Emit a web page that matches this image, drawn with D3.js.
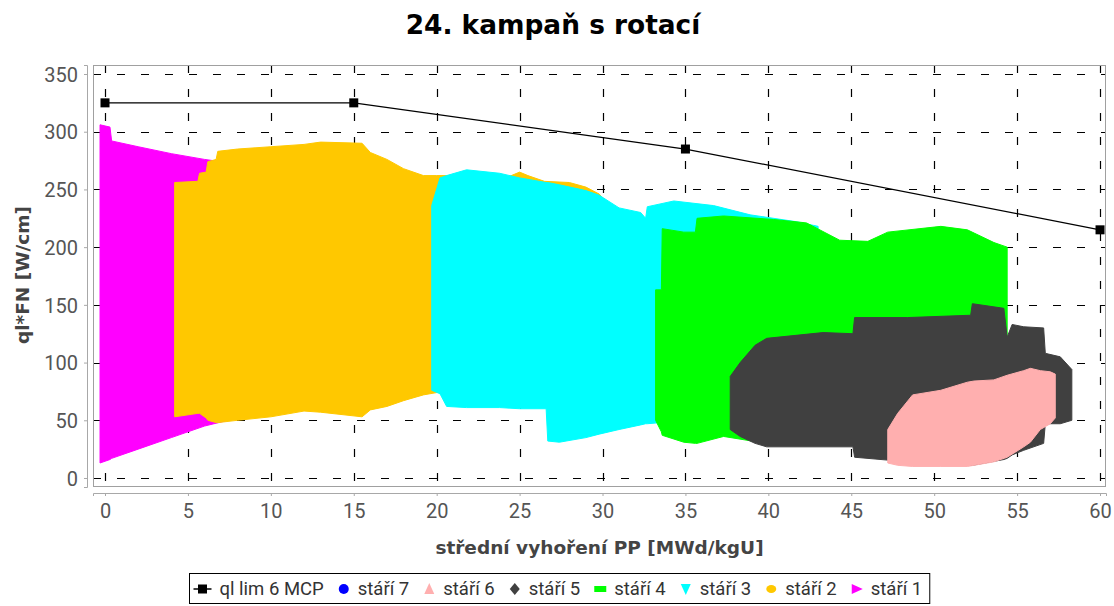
<!DOCTYPE html>
<html>
<head>
<meta charset="utf-8">
<script src="https://cdn.jsdelivr.net/npm/d3@7"></script>
<style>
  body { margin: 0; background: #fff; }
  svg { display: block; }
</style>
</head>
<body>
<script>
// chart size and plot frame
const WIDTH = 1114, HEIGHT = 606;
const PLOT = { left: 93, right: 1106, top: 65, bottom: 487 };
const X_DOMAIN = [-0.724, 60.36];
const Y_DOMAIN = [-7.8, 357.8];

const xTicks = [0, 5, 10, 15, 20, 25, 30, 35, 40, 45, 50, 55, 60];
const yTicks = [0, 50, 100, 150, 200, 250, 300, 350];

// ql lim 6 MCP (line with squares)
const limX = [0, 15, 35, 60];
const limY = [325, 325, 285, 215];

// point clouds, read off as upper / lower envelope at given burnup
// stáří 1
const age1X = [-0.3, 0.3, 0.4, 2, 4, 6, 8];
const age1Top = [306, 304, 292, 287, 281, 276, 272];
const age1Bottom = [13, 16, 17, 25, 35, 45, 52];

// stáří 2
const age2X = [4.2, 5.6, 5.7, 6.1, 6.2, 6.7, 6.8, 8, 10, 12, 13, 15.5, 16, 17, 18, 19.2, 20, 22, 24, 25, 25.5, 26.5, 28, 29, 29.8, 30.3];
const age2Top = [256, 257, 264, 265, 274, 276, 283, 285, 287, 289, 291, 290, 282, 276, 268, 262, 262, 262, 259, 265, 262, 257, 256, 252, 246, 238];
const age2Bottom = [53, 56, 56, 52, 50, 48, 48, 50, 53, 58, 57, 53, 59, 62, 67, 72, 74, 76, 77, 78, 78, 79, 80, 80, 80, 80];

// stáří 3
const age3X = [19.7, 20.2, 20.6, 21.8, 23.8, 25, 26.6, 26.7, 27.4, 29, 29.8, 31, 32.3, 32.6, 32.7, 34.3, 36.7, 38.9, 41.7, 43];
const age3Top = [236, 260, 262, 267, 264, 260, 256, 256, 254, 249, 245, 234, 230, 225, 235, 240, 236, 228, 222, 218];
const age3Bottom = [76, 73, 62, 61, 61, 60, 60, 32, 31, 35, 38, 42, 46, 47, 47, 49, 50, 52, 55, 60];

// stáří 4
const age4X = [33.2, 33.55, 33.6, 34.9, 35.6, 35.7, 37.3, 40.3, 42.3, 44.3, 46, 47.2, 50.4, 52, 53.6, 54.4];
const age4Top = [163, 163, 216, 213, 213, 225, 227, 224, 221, 206, 205, 213, 218, 215, 204, 200];
const age4Bottom = [50, 40, 37, 31, 30, 30, 36, 29, 30, 35, 40, 45, 55, 65, 80, 100];

// stáří 5
const age5X = [37.7, 38.3, 39.2, 39.9, 43.3, 45.1, 45.2, 48.4, 52.2, 52.3, 54.2, 54.4, 54.7, 55.4, 56.6, 56.7, 57.6, 58.3];
const age5Top = [88, 100, 115, 121, 126, 125, 139, 139, 141, 151, 147, 122, 133, 131, 130, 108, 105, 94];
const age5Bottom = [42, 36, 30, 27, 27, 27, 18, 14, 11, 11, 16, 17, 20, 24, 30, 47, 47, 50];

// stáří 6
const age6X = [47.2, 47.8, 48.7, 50.4, 52, 52.4, 53.6, 54.4, 55.4, 55.8, 56.4, 57, 57.3];
const age6Top = [42, 56, 72, 76, 83, 84, 85, 89, 93, 95, 93, 92, 90];
const age6Bottom = [13, 11, 10, 10, 10, 11, 14, 18, 27, 31, 42, 47, 52];

const clouds = [
  { name: 'stáří 1', color: '#ff00ff', X: age1X, top: age1Top, bottom: age1Bottom },
  { name: 'stáří 2', color: '#ffc800', X: age2X, top: age2Top, bottom: age2Bottom },
  { name: 'stáří 3', color: '#00ffff', X: age3X, top: age3Top, bottom: age3Bottom },
  { name: 'stáří 4', color: '#00ff00', X: age4X, top: age4Top, bottom: age4Bottom },
  { name: 'stáří 5', color: '#404040', X: age5X, top: age5Top, bottom: age5Bottom },
  { name: 'stáří 6', color: '#ffafaf', X: age6X, top: age6Top, bottom: age6Bottom }
];

const legendItems = [
  { label: 'ql lim 6 MCP', color: '#000', shape: 'line' },
  { label: 'stáří 7', color: '#0000ff', shape: 'circle' },
  { label: 'stáří 6', color: '#ffafaf', shape: 'triUp' },
  { label: 'stáří 5', color: '#404040', shape: 'diamond' },
  { label: 'stáří 4', color: '#00ff00', shape: 'rect' },
  { label: 'stáří 3', color: '#00ffff', shape: 'triDown' },
  { label: 'stáří 2', color: '#ffc800', shape: 'ellipse' },
  { label: 'stáří 1', color: '#ff00ff', shape: 'triRight' }
];

const svg = d3.select('body').append('svg')
  .attr('width', WIDTH)
  .attr('height', HEIGHT);

const x = d3.scaleLinear(X_DOMAIN, [PLOT.left, PLOT.right]);
const y = d3.scaleLinear(Y_DOMAIN, [PLOT.bottom, PLOT.top]);

const boldFont = '"DejaVu Sans", "Noto Sans", sans-serif';
const tickFont = 'Roboto, "DejaVu Sans", sans-serif';

// title
svg.append('text')
  .attr('x', 553).attr('y', 34)
  .attr('text-anchor', 'middle')
  .style('font-family', boldFont)
  .style('font-weight', 'bold')
  .style('font-size', '26.4px')
  .attr('fill', '#000')
  .text('24. kampaň s rotací');

svg.append('clipPath').attr('id', 'plot-clip')
  .append('rect')
  .attr('x', PLOT.left).attr('y', PLOT.top)
  .attr('width', PLOT.right - PLOT.left).attr('height', PLOT.bottom - PLOT.top);

// grid
const grid = svg.append('g')
  .attr('stroke', '#000')
  .attr('stroke-width', 1.2)
  .attr('stroke-dasharray', '8,16');
grid.selectAll('line.gx').data(xTicks).join('line')
  .attr('class', 'gx')
  .attr('x1', d => Math.round(x(d)) + 0.5).attr('x2', d => Math.round(x(d)) + 0.5)
  .attr('y1', PLOT.top).attr('y2', PLOT.bottom);
grid.selectAll('line.gy').data(yTicks).join('line')
  .attr('class', 'gy')
  .attr('y1', d => Math.round(y(d)) + 0.5).attr('y2', d => Math.round(y(d)) + 0.5)
  .attr('x1', PLOT.left).attr('x2', PLOT.right);

// point clouds
const area = d3.area()
  .x(d => x(d[0]))
  .y0(d => y(d[2]))
  .y1(d => y(d[1]));

const cloudG = svg.append('g').attr('clip-path', 'url(#plot-clip)');
cloudG.selectAll('path').data(clouds).join('path')
  .attr('fill', d => d.color)
  .attr('stroke', d => d.color)
  .attr('stroke-width', 1)
  .attr('d', d => area(d.X.map((v, i) => [v, d.top[i], d.bottom[i]])));

// limit line
const limPts = limX.map((v, i) => [v, limY[i]]);
svg.append('path')
  .attr('fill', 'none')
  .attr('stroke', '#000')
  .attr('stroke-width', 1.3)
  .attr('d', d3.line().x(d => x(d[0])).y(d => y(d[1]))(limPts));
svg.append('g').selectAll('rect').data(limPts).join('rect')
  .attr('x', d => x(d[0]) - 4.5).attr('y', d => y(d[1]) - 4.5)
  .attr('width', 9).attr('height', 9)
  .attr('fill', '#000');

// plot frame
svg.append('rect')
  .attr('x', PLOT.left + 0.5).attr('y', PLOT.top + 0.5)
  .attr('width', PLOT.right - PLOT.left - 1).attr('height', PLOT.bottom - PLOT.top - 1)
  .attr('fill', 'none').attr('stroke', '#a0a0a0').attr('stroke-width', 1);

// axes
const xAxis = svg.append('g')
  .attr('transform', `translate(0,${PLOT.bottom + 6})`)
  .call(d3.axisBottom(x).tickValues(xTicks).tickSize(3).tickPadding(8));
const yAxis = svg.append('g')
  .attr('transform', `translate(${PLOT.left - 6},0)`)
  .call(d3.axisLeft(y).tickValues(yTicks).tickSize(3).tickPadding(6));
[xAxis, yAxis].forEach(g => {
  g.select('.domain').attr('stroke', '#a8a8a8');
  g.selectAll('.tick line').attr('stroke', '#a8a8a8');
  g.selectAll('.tick text')
    .attr('fill', '#555')
    .style('font-family', tickFont)
    .style('font-size', '20px');
});
yAxis.selectAll('.tick text').attr('dy', '0.36em');

// axis labels
const labelStyle = sel => sel
  .style('font-family', boldFont)
  .style('font-weight', 'bold')
  .style('font-size', '18.5px')
  .attr('fill', '#444')
  .attr('text-anchor', 'middle');
svg.append('text')
  .attr('x', (PLOT.left + PLOT.right) / 2).attr('y', 554)
  .call(labelStyle)
  .text('střední vyhoření PP [MWd/kgU]');
svg.append('text')
  .attr('transform', 'translate(29,275) rotate(-90)')
  .call(labelStyle)
  .text('ql*FN [W/cm]');

// legend
const legend = svg.append('g');
const legendBox = legend.append('rect')
  .attr('fill', '#fff').attr('stroke', '#000').attr('stroke-width', 1);
const legendRow = legend.append('g');
const legendY = 589;
let cursor = 0;
const symbolFor = {
  circle: g => g.append('circle').attr('r', 5),
  triUp: g => g.append('path').attr('d', 'M0,-6L5,5L-5,5Z'),
  triDown: g => g.append('path').attr('d', 'M0,6L5,-5L-5,-5Z'),
  triRight: g => g.append('path').attr('d', 'M6,0L-5,-5L-5,5Z'),
  diamond: g => g.append('path').attr('d', 'M0,-6L5,0L0,6L-5,0Z'),
  rect: g => g.append('rect').attr('x', -6).attr('y', -3).attr('width', 12).attr('height', 6),
  ellipse: g => g.append('ellipse').attr('rx', 5).attr('ry', 4),
  line: g => {
    g.append('line').attr('x1', -9).attr('x2', 9).attr('stroke', '#000').attr('stroke-width', 1.5);
    g.append('rect').attr('x', -4.5).attr('y', -4.5).attr('width', 9).attr('height', 9);
  }
};
legendItems.forEach((item, i) => {
  const sx = cursor + (i === 0 ? 13.5 : 0);
  const sym = legendRow.append('g')
    .attr('transform', `translate(${sx},${legendY})`)
    .attr('fill', item.color);
  symbolFor[item.shape](sym);
  const tx = sx + (i === 0 ? 17 : 14);
  const t = legendRow.append('text')
    .attr('x', tx).attr('y', legendY).attr('dy', '0.35em')
    .style('font-family', tickFont)
    .style('font-size', '18.5px')
    .attr('fill', '#333')
    .text(item.label);
  cursor = tx + t.node().getComputedTextLength() + 20;
});
const legendW = cursor - 13;
const legendX = Math.round(559.5 - legendW / 2);
legendRow.attr('transform', `translate(${legendX},0)`);
legendBox.attr('x', legendX + 0.5).attr('y', 573.5)
  .attr('width', legendW).attr('height', 30);
</script>
</body>
</html>
